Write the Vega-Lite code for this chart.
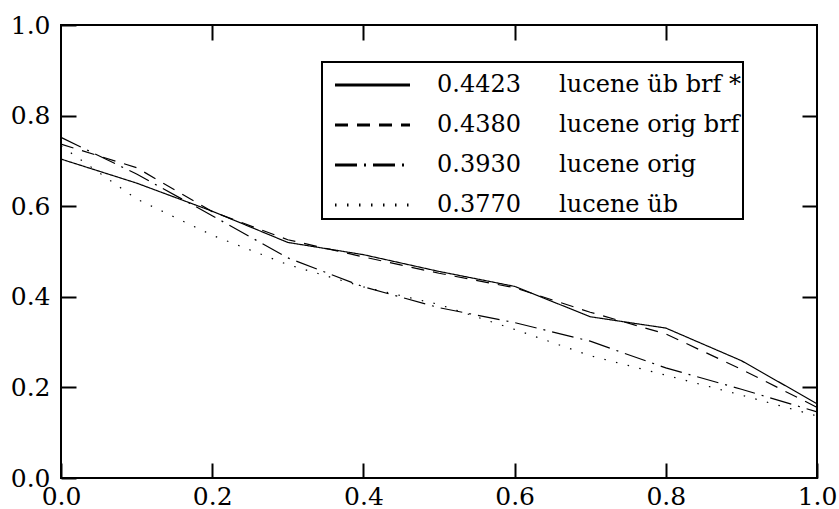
{
  "$schema": "https://vega.github.io/schema/vega-lite/v6.json",
  "autosize": {"type": "none"},
  "padding": {"left": 61, "top": 25, "right": 22, "bottom": 31},
  "width": 756,
  "height": 453,
  "background": "white",
  "config": {
    "font": "DejaVu Serif",
    "view": {"stroke": "black", "strokeWidth": 2},
    "legend": {"strokeWidth": 2},
    "axis": {
      "grid": false,
      "domain": false,
      "ticks": true,
      "tickColor": "#000000",
      "tickOpacity": 1,
      "tickWidth": 2,
      "tickSize": 15,
      "offset": -15,
      "zindex": 2,
      "labelFont": "DejaVu Serif",
      "labelFontSize": 25,
      "labelColor": "black",
      "labelFlush": false,
      "labelOverlap": false,
      "title": null
    }
  },
  "data": {
    "values": [
      {"series": "lucene üb brf *", "recall": 0.0, "precision": 0.704},
      {"series": "lucene üb brf *", "recall": 0.1, "precision": 0.651},
      {"series": "lucene üb brf *", "recall": 0.2, "precision": 0.589},
      {"series": "lucene üb brf *", "recall": 0.3, "precision": 0.520},
      {"series": "lucene üb brf *", "recall": 0.4, "precision": 0.493},
      {"series": "lucene üb brf *", "recall": 0.5, "precision": 0.456},
      {"series": "lucene üb brf *", "recall": 0.6, "precision": 0.423},
      {"series": "lucene üb brf *", "recall": 0.7, "precision": 0.356},
      {"series": "lucene üb brf *", "recall": 0.8, "precision": 0.331},
      {"series": "lucene üb brf *", "recall": 0.9, "precision": 0.259},
      {"series": "lucene üb brf *", "recall": 1.0, "precision": 0.164},
      {"series": "lucene orig brf", "recall": 0.0, "precision": 0.737},
      {"series": "lucene orig brf", "recall": 0.1, "precision": 0.685},
      {"series": "lucene orig brf", "recall": 0.2, "precision": 0.588},
      {"series": "lucene orig brf", "recall": 0.3, "precision": 0.526},
      {"series": "lucene orig brf", "recall": 0.4, "precision": 0.488},
      {"series": "lucene orig brf", "recall": 0.5, "precision": 0.452},
      {"series": "lucene orig brf", "recall": 0.6, "precision": 0.420},
      {"series": "lucene orig brf", "recall": 0.7, "precision": 0.366},
      {"series": "lucene orig brf", "recall": 0.8, "precision": 0.318},
      {"series": "lucene orig brf", "recall": 0.9, "precision": 0.240},
      {"series": "lucene orig brf", "recall": 1.0, "precision": 0.156},
      {"series": "lucene orig", "recall": 0.0, "precision": 0.752},
      {"series": "lucene orig", "recall": 0.1, "precision": 0.671},
      {"series": "lucene orig", "recall": 0.2, "precision": 0.579},
      {"series": "lucene orig", "recall": 0.3, "precision": 0.486},
      {"series": "lucene orig", "recall": 0.4, "precision": 0.422},
      {"series": "lucene orig", "recall": 0.5, "precision": 0.376},
      {"series": "lucene orig", "recall": 0.6, "precision": 0.343},
      {"series": "lucene orig", "recall": 0.7, "precision": 0.302},
      {"series": "lucene orig", "recall": 0.8, "precision": 0.243},
      {"series": "lucene orig", "recall": 0.9, "precision": 0.196},
      {"series": "lucene orig", "recall": 1.0, "precision": 0.146},
      {"series": "lucene üb", "recall": 0.0, "precision": 0.733},
      {"series": "lucene üb", "recall": 0.1, "precision": 0.616},
      {"series": "lucene üb", "recall": 0.2, "precision": 0.536},
      {"series": "lucene üb", "recall": 0.3, "precision": 0.471},
      {"series": "lucene üb", "recall": 0.4, "precision": 0.422},
      {"series": "lucene üb", "recall": 0.5, "precision": 0.383},
      {"series": "lucene üb", "recall": 0.6, "precision": 0.328},
      {"series": "lucene üb", "recall": 0.7, "precision": 0.270},
      {"series": "lucene üb", "recall": 0.8, "precision": 0.227},
      {"series": "lucene üb", "recall": 0.9, "precision": 0.183},
      {"series": "lucene üb", "recall": 1.0, "precision": 0.137}
    ]
  },
  "layer": [
    {
      "mark": {"type": "line", "color": "black", "strokeWidth": 1.2, "strokeCap": "butt"},
      "encoding": {
        "x": {
          "field": "recall", "type": "quantitative",
          "scale": {"domain": [0, 1], "nice": false},
          "axis": {"orient": "bottom", "values": [0, 0.2, 0.4, 0.6, 0.8, 1.0], "format": ".1f", "labelPadding": 6}
        },
        "y": {
          "field": "precision", "type": "quantitative",
          "scale": {"domain": [0, 1], "nice": false},
          "axis": {"orient": "left", "values": [0, 0.2, 0.4, 0.6, 0.8, 1.0], "format": ".1f", "labelPadding": 11}
        },
        "strokeDash": {
          "field": "series", "type": "nominal",
          "scale": {
            "domain": ["lucene üb brf *", "lucene orig brf", "lucene orig", "lucene üb"],
            "range": [[1, 0], [13, 9], [22, 7, 2, 7], [1.5, 10.5]]
          },
          "legend": {
            "orient": "none",
            "legendX": 261,
            "legendY": 37,
            "title": " ",
            "titleFontSize": 8,
            "titlePadding": 1,
            "strokeColor": "black",
            "fillColor": "white",
            "padding": 2,
            "symbolType": "M0,0H20",
            "symbolSize": 56.25,
            "symbolStrokeWidth": 3,
            "symbolStrokeColor": "black",
            "symbolOffset": -1,
            "labelOffset": 90,
            "labelFont": "DejaVu Serif",
            "labelFontSize": 24,
            "labelColor": "black",
            "labelLimit": 600,
            "rowPadding": 16,
            "labelExpr": "(datum.label == 'lucene üb brf *' ? '0.4423' : datum.label == 'lucene orig brf' ? '0.4380' : datum.label == 'lucene orig' ? '0.3930' : '0.3770') + '\u00a0\u00a0\u00a0\u00a0\u00a0' + datum.label + '\u2003\u2002'"
          }
        }
      }
    },
    {
      "mark": {"type": "line", "opacity": 0},
      "encoding": {
        "x": {
          "field": "recall", "type": "quantitative",
          "scale": {"domain": [0, 1], "nice": false},
          "axis": {"orient": "top", "values": [0.2, 0.4, 0.6, 0.8], "labels": false}
        },
        "y": {
          "field": "precision", "type": "quantitative",
          "scale": {"domain": [0, 1], "nice": false},
          "axis": {"orient": "right", "values": [0.2, 0.4, 0.6, 0.8], "labels": false}
        },
        "detail": {"field": "series", "type": "nominal"}
      }
    }
  ],
  "resolve": {"axis": {"x": "independent", "y": "independent"}}
}
